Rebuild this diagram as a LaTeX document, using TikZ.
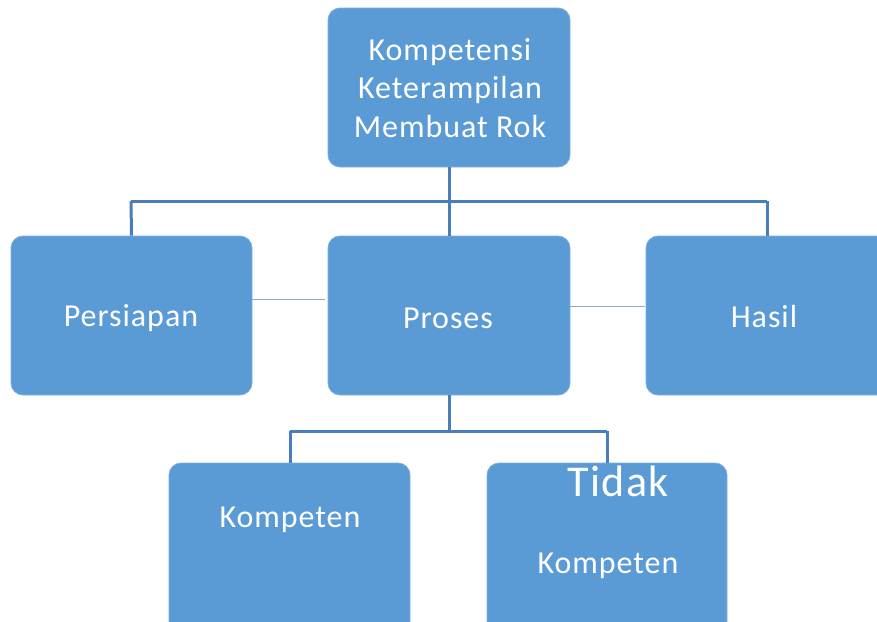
\documentclass[tikz,border=0pt]{standalone}
\usepackage{fontspec}
\setmainfont{Carlito}[LetterSpace=3]
\definecolor{boxblue}{HTML}{5B9BD5}
\definecolor{linkblue}{HTML}{4A7EBB}
\definecolor{thinline}{HTML}{8FA9C8}
\begin{document}
\begin{tikzpicture}[x=1pt,y=-1pt,
  box/.style={fill=boxblue,draw=boxblue!80!white,line width=0.8pt,rounded corners=12pt,inner sep=0pt},
  lbl/.style={text=white,font=\fontsize{32}{38.5}\selectfont,inner sep=0pt,align=center},
  link/.style={draw=linkblue,line width=3pt},
  thin/.style={draw=thinline,line width=1pt}]
\useasboundingbox (0,0) rectangle (877,621);
\fill[white] (0,0) rectangle (877,621);
% boxes
\node[box,minimum width=242pt,minimum height=159pt] (top) at (449,87.5) {};
\node[box,minimum width=241pt,minimum height=159pt] (pers) at (131.5,315.5) {};
\node[box,minimum width=242pt,minimum height=159pt] (pros) at (449,315.5) {};
\node[box,minimum width=250pt,minimum height=159pt] (has) at (771,315.5) {};
\node[box,minimum width=241pt,minimum height=180pt] (komp) at (289.5,553) {};
\node[box,minimum width=240pt,minimum height=180pt] (tidak) at (607,553) {};
% texts
\node[lbl] (ttop) at (450,88) {Kompetensi\\Keterampilan\\Membuat Rok};
\node[lbl] (tpers) at (131,318) {Persiapan};
\node[lbl] (tpros) at (448,318) {Proses};
\node[lbl] (thas) at (764,317) {Hasil};
\node[lbl] (tkomp) at (290,520) {Kompeten};
\node[lbl,font=\fontsize{44}{50}\selectfont] (ttid1) at (618,481) {Tidak};
\node[lbl] (ttid2) at (608,566) {Kompeten};
% connectors
\coordinate (j1) at (449,201);
\coordinate (j2) at (449,431);
\coordinate (jl) at (131,201);
\coordinate (jr) at (767,201);
\coordinate (kl) at (290,431);
\coordinate (kr) at (607,431);
\draw[link] (top.south) -- (j1);
\draw[link] (jl) -- (jr);
\draw[link] (jl) -- (pers.north);
\draw[link] (j1) -- (pros.north);
\draw[link] (jr) -- (jr |- has.north);
\draw[link] (pros.south) -- (j2);
\draw[link] (kl) -- (kr);
\draw[link] (kl) -- (kl |- komp.north);
\draw[link] (kr) -- (kr |- tidak.north);
\coordinate (a1) at (325,299);
\coordinate (a2) at (645,306);
\draw[thin] (pers.east |- a1) -- (a1);
\draw[thin] (pros.east |- a2) -- (a2);
\end{tikzpicture}
\end{document}
